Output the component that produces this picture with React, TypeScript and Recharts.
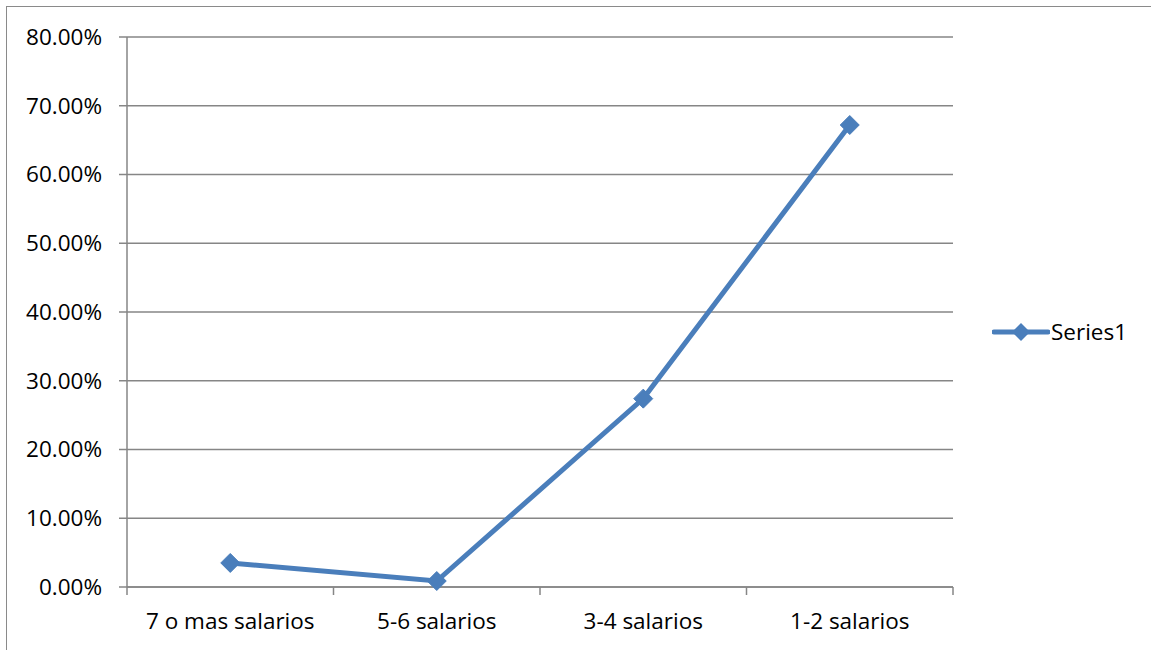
import React from "react";
import {
  LineChart,
  Line,
  XAxis,
  YAxis,
  CartesianGrid,
} from "recharts";

const categories = ["7 o mas salarios", "5-6 salarios", "3-4 salarios", "1-2 salarios"];
const series1 = [0.035, 0.0087, 0.274, 0.672];
const yTicks = [0, 0.1, 0.2, 0.3, 0.4, 0.5, 0.6, 0.7, 0.8];

const BLUE = "#4A7EBB";
const GRID = "#868686";
const FONT = "'Open Sans', sans-serif";
const FONT_SIZE = 22.5;
const X_TICK_MARGIN = 26;
const X_TICK_SIZE = 8;

const data = categories.map((name, i) => ({ name, value: series1[i] }));

const Diamond = (props: any) => {
  const { cx, cy } = props;
  if (cx == null || cy == null) return null;
  const r = 9.5;
  return (
    <polygon
      points={`${cx},${cy - r} ${cx + r},${cy} ${cx},${cy + r} ${cx - r},${cy}`}
      fill={BLUE}
      stroke={BLUE}
      strokeWidth={1}
      strokeLinejoin="round"
    />
  );
};

// category label plus the tick marks on the band edges (Excel style "between" ticks)
const CategoryTick = (props: any) => {
  const { x, y, payload, index, visibleTicksCount } = props;
  const half = payload?.offset ?? 0;
  const axisY = y - X_TICK_MARGIN;
  const edges = [x - half];
  if (index === visibleTicksCount - 1) edges.push(x + half);
  return (
    <g>
      {edges.map((ex) => (
        <line
          key={ex}
          x1={ex}
          x2={ex}
          y1={axisY}
          y2={axisY + X_TICK_SIZE}
          stroke={GRID}
          strokeWidth={1.5}
        />
      ))}
      <text
        x={x}
        y={y}
        dy="0.71em"
        textAnchor="middle"
        fill="#000"
        fontSize={FONT_SIZE}
        fontFamily={FONT}
      >
        {payload.value}
      </text>
    </g>
  );
};

// legend key sits to the right of the plot, outside the chart's own layout
const LegendBox = () => (
  <div
    style={{
      position: "absolute",
      left: 992,
      top: 316,
      display: "flex",
      alignItems: "center",
      fontFamily: FONT,
      fontSize: FONT_SIZE,
      color: "#000",
    }}
  >
    <svg width={58} height={20}>
      <line x1={2} y1={10} x2={56} y2={10} stroke={BLUE} strokeWidth={5} strokeLinecap="round" />
      <polygon points="29,1 38,10 29,19 20,10" fill={BLUE} />
    </svg>
    <span style={{ marginLeft: 1 }}>Series1</span>
  </div>
);

export default function App() {
  return (
    <div
      style={{
        position: "fixed",
        left: 0,
        top: 0,
        width: 1151,
        height: 650,
        overflow: "hidden",
        background: "#fff",
      }}
    >
      <div
        style={{
          position: "absolute",
          left: 6,
          top: 6,
          width: 1170,
          height: 670,
          border: "1.5px solid #8a8a8a",
        }}
      />
      <div style={{ position: "absolute", left: 0, top: 0 }}>
        <LineChart
          width={1151}
          height={650}
          data={data}
          margin={{ top: 37, right: 198, bottom: 0, left: 27 }}
        >
          <CartesianGrid vertical={false} stroke={GRID} strokeWidth={1.5} />
          <XAxis
            dataKey="name"
            scale="band"
            height={63}
            axisLine={{ stroke: GRID, strokeWidth: 1.5 }}
            tickLine={false}
            tickSize={0}
            tickMargin={X_TICK_MARGIN}
            interval={0}
            tick={<CategoryTick />}
          />
          <YAxis
            domain={[0, 0.8]}
            ticks={yTicks}
            width={100}
            tickSize={8}
            tickMargin={17}
            tickFormatter={(v: number) => (v * 100).toFixed(2) + "%"}
            tick={{ fill: "#000", fontSize: FONT_SIZE, fontFamily: FONT }}
            tickLine={{ stroke: GRID, strokeWidth: 1.5 }}
            axisLine={{ stroke: GRID, strokeWidth: 1.5 }}
          />
          <Line
            dataKey="value"
            name="Series1"
            stroke={BLUE}
            strokeWidth={5}
            dot={<Diamond />}
            activeDot={false}
            isAnimationActive={false}
          />
        </LineChart>
      </div>
      <LegendBox />
    </div>
  );
}
